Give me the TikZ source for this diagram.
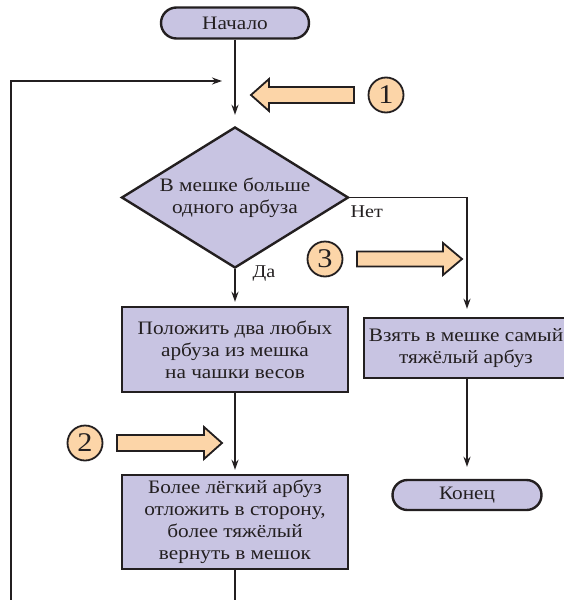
\documentclass[tikz,border=0pt]{standalone}
\usepackage{fontspec}
\setmainfont[FakeStretch=1.12]{Liberation Serif}
\usetikzlibrary{arrows.meta,shapes.geometric,shapes.misc}
\definecolor{ink}{HTML}{231F20}
\definecolor{lav}{HTML}{C8C4E2}
\definecolor{peach}{HTML}{FCD5A8}
\tikzset{
  block/.style={draw=ink, line width=2.4pt, fill=lav, rectangle, align=center,
    text=ink, inner sep=0pt, font=\fontsize{19}{22}\selectfont},
  term/.style={draw=ink, line width=2.4pt, fill=lav, rounded rectangle,
    text=ink, inner sep=0pt, font=\fontsize{19}{22}\selectfont},
  flow/.style={draw=ink, line width=1.8pt, -{Stealth[length=10pt,width=7pt]}},
  tag/.style={text=ink, font=\fontsize{18}{20}\selectfont},
  marker/.style={circle, draw=ink, line width=1.8pt, fill=peach, minimum size=35pt,
    inner sep=0pt, text=ink, font=\fontsize{27}{27}\selectfont},
  fat/.style={draw=ink, line width=1.8pt, fill=peach, line join=miter}
}
\begin{document}
\begin{tikzpicture}[x=1pt, y=-1pt]
\useasboundingbox (0,0) rectangle (564,600);
\clip (0,0) rectangle (564,600);

% terminals and blocks
\node[term, minimum width=148pt, minimum height=31pt] (start) at (235,23) {Начало};
\node[diamond, draw=ink, line width=2.4pt, fill=lav, inner sep=0pt,
      minimum width=227pt, minimum height=141pt,
      label={[align=center, text=ink, font=\fontsize{19}{22}\selectfont]center:В мешке больше\\одного арбуза}]
      (dec) at (235,197.5) {};
\node[block, minimum width=226pt, minimum height=85pt] (weigh) at (235,349.5)
  {Положить два любых\\арбуза из мешка\\на чашки весов};
\node[block, minimum width=204pt, minimum height=60pt] (take) at (466,348)
  {Взять в мешке самый\\тяжёлый арбуз};
\node[block, minimum width=226pt, minimum height=94pt] (back) at (235,522)
  {Более лёгкий арбуз\\отложить в сторону,\\более тяжёлый\\вернуть в мешок};
\node[term, minimum width=149pt, minimum height=30pt] (end) at (467,495) {Конец};

% branch labels
\node[tag, anchor=west] (no) at (347,212) {Нет};
\node[tag, anchor=west] (yes) at (249,274) {Да};

% connectors
\coordinate (merge) at (222,81);
\draw[flow, shorten >=11pt] (start.south) -- (dec.north);
\draw[flow, shorten >=4pt] (dec.south) -- (weigh.north);
\draw[flow, shorten >=4pt] (weigh.south) -- (back.north);
\draw[flow, shorten >=8pt] (dec.east) -| (take.north -| end.north);
\draw[flow, shorten >=12pt] (take.south -| end.north) -- (end.north);
\draw[flow] (back.south) -- (235,606) -- (11,606) |- (merge);

% numbered markers with block arrows
\node[marker] (m1) at (386,95) {1};
\node[marker] (m3) at (325,259) {3};
\node[marker] (m2) at (85,443) {2};
\draw[fat] (354,87) -- (269,87) -- (269,79) -- (251,95) -- (269,111) -- (269,103) -- (354,103) -- cycle;
\draw[fat] (357,251.5) -- (443,251.5) -- (443,243) -- (462,259) -- (443,275) -- (443,266.5) -- (357,266.5) -- cycle;
\draw[fat] (117,435) -- (204,435) -- (204,427) -- (222,443) -- (204,459) -- (204,451) -- (117,451) -- cycle;
\end{tikzpicture}
\end{document}
